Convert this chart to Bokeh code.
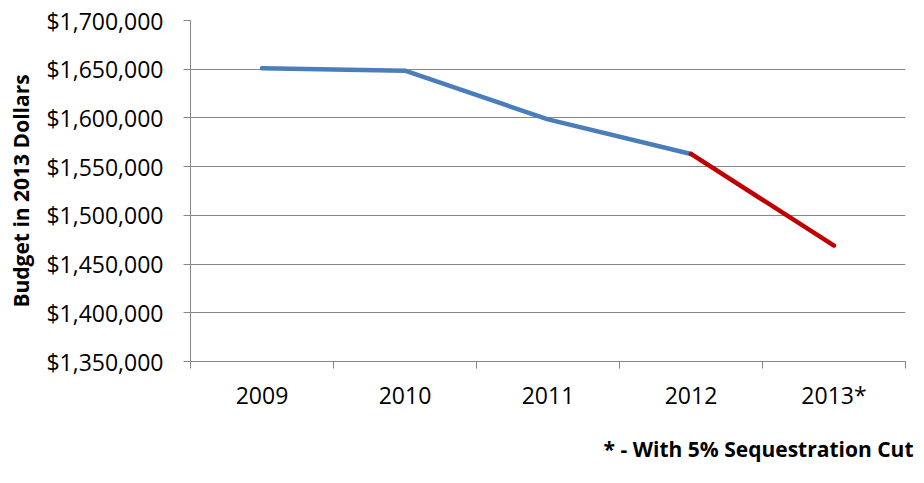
import numpy as np
from bokeh.plotting import figure
from bokeh.models import FixedTicker, NumeralTickFormatter, Range1d, Title
from bokeh.embed import file_html
from bokeh.resources import INLINE

# ---- data ----
years = ["2009", "2010", "2011", "2012", "2013*"]
budget = [1651000, 1648500, 1598500, 1563000, 1469000]
y_ticks = [1350000, 1400000, 1450000, 1500000, 1550000, 1600000, 1650000, 1700000]
footnote = "* - With 5% Sequestration Cut"
y_title = "Budget in 2013 Dollars"

FONT = "Open Sans"
GRID = "#868686"

xs = list(np.arange(len(years)) + 0.5)

p = figure(width=924, height=483, output_backend="svg", toolbar_location=None,
           x_range=Range1d(0, len(years)), y_range=Range1d(y_ticks[0], y_ticks[-1]),
           min_border_left=190, min_border_right=19, min_border_top=20, min_border_bottom=122)
p.outline_line_color = None
p.background_fill_color = "white"
p.border_fill_color = "white"

# lines
p.line(xs[:4], budget[:4], line_color="#4a7ebb", line_width=4.5, line_cap="round", line_join="round")
p.line(xs[3:], budget[3:], line_color="#c00000", line_width=4.5, line_cap="round", line_join="round")

# x axis
p.xaxis.ticker = FixedTicker(ticks=xs, minor_ticks=list(range(len(years) + 1)))
p.xaxis.major_label_overrides = {float(x): y for x, y in zip(xs, years)}
p.xaxis.major_tick_line_color = None
p.xaxis.minor_tick_line_color = GRID
p.xaxis.minor_tick_in = 0
p.xaxis.minor_tick_out = 7
p.xaxis.major_tick_out = 7
p.xaxis.major_label_standoff = 10
p.xaxis.axis_line_color = GRID
p.xaxis.major_label_text_font = FONT
p.xaxis.major_label_text_font_size = "23px"
p.xaxis.major_label_text_color = "black"
p.xgrid.grid_line_color = None

# y axis
p.yaxis.ticker = FixedTicker(ticks=y_ticks, minor_ticks=[])
p.yaxis.formatter = NumeralTickFormatter(format="$0,0")
p.yaxis.axis_line_color = GRID
p.yaxis.major_tick_line_color = GRID
p.yaxis.major_tick_in = 0
p.yaxis.major_tick_out = 7
p.yaxis.minor_tick_line_color = None
p.yaxis.major_label_standoff = 20
p.yaxis.major_label_text_font = FONT
p.yaxis.major_label_text_font_size = "23px"
p.yaxis.major_label_text_color = "black"
p.yaxis.axis_label = y_title
p.yaxis.axis_label_text_font = FONT
p.yaxis.axis_label_text_font_style = "bold"
p.yaxis.axis_label_text_font_size = "21px"
p.yaxis.axis_label_text_color = "black"
p.yaxis.axis_label_standoff = 8
p.ygrid.grid_line_color = GRID
p.ygrid.grid_line_width = 1

p.add_layout(Title(text=footnote, align="right", vertical_align="bottom", text_font=FONT,
                   text_font_style="bold", text_font_size="21px", text_color="black",
                   standoff=39, offset=-8), "below")

open("out.html", "w").write(file_html(p, INLINE))
